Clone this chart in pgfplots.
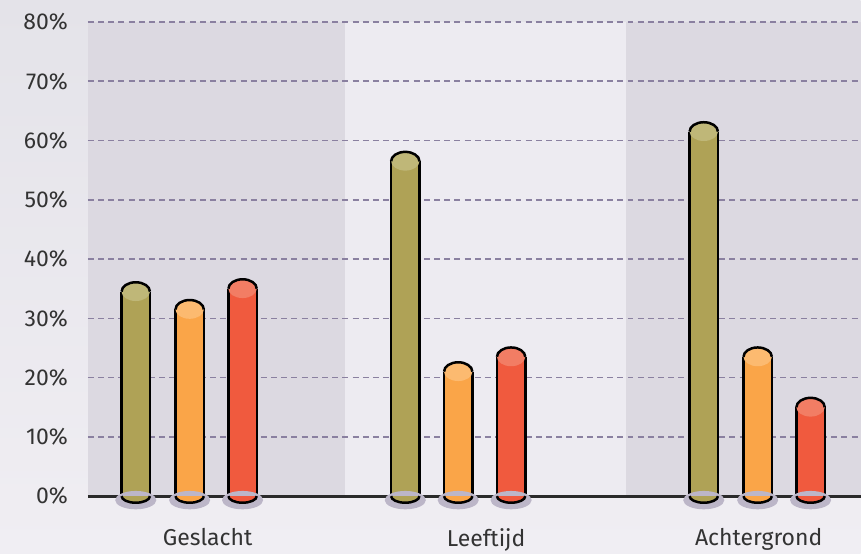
\documentclass[border=0pt]{standalone}
\usepackage{pgfplots}
\usepackage{pgfplotstable}
\pgfplotsset{compat=1.18}
\usepackage{fontspec}
\setmainfont{Fira Sans}

\definecolor{colA}{HTML}{AFA256}
\definecolor{hlA}{HTML}{BFB778}
\definecolor{colB}{HTML}{FAA548}
\definecolor{hlB}{HTML}{FCBA70}
\definecolor{colC}{HTML}{F05A3E}
\definecolor{hlC}{HTML}{F27D64}
\definecolor{shadowc}{HTML}{BCB6C8}
\definecolor{gridc}{HTML}{8A80A0}
\definecolor{bandD}{HTML}{DCD9E1}
\definecolor{bandL}{HTML}{EDEBF1}
\definecolor{bgT}{HTML}{E4E3E9}
\definecolor{bgB}{HTML}{F0EEF3}
\definecolor{textc}{HTML}{333333}
\definecolor{zeroc}{HTML}{2A2A2A}

\pgfdeclareplotmark{captop}{%
  \pgfpathellipse{\pgfpointorigin}{\pgfqpoint{7.1pt}{0pt}}{\pgfqpoint{0pt}{4.7pt}}%
  \pgfusepath{fill}%
  \pgfpathmoveto{\pgfqpoint{-7.1pt}{0pt}}%
  \pgfpatharc{180}{0}{7.1pt and 4.7pt}%
  \pgfusepath{stroke}}
\pgfdeclareplotmark{capbot}{%
  \pgfpathmoveto{\pgfqpoint{-7.1pt}{0pt}}%
  \pgfpatharc{180}{360}{7.1pt and 3.3pt}%
  \pgfusepath{fill,stroke}}
\pgfdeclareplotmark{shadow}{%
  \pgfpathellipse{\pgfqpoint{0pt}{-2pt}}{\pgfqpoint{10.3pt}{0pt}}{\pgfqpoint{0pt}{4.6pt}}%
  \pgfusepath{fill}}

\pgfplotstableread{
x y
136 34.5
406 56.5
705 61.5
}\dataA
\pgfplotstableread{
x y
190 31.5
459 21
759 23.5
}\dataB
\pgfplotstableread{
x y
243 35
512 23.5
812 15
}\dataC

\newcommand\cyl[3]{%
  \addplot[ycomb, draw=#2, line width=14.2pt, mark=none] table[x=x,y=y]{#1};
  \addplot[ycomb, draw=black, line width=1.25pt, mark=none] table[x expr=\thisrow{x}-7.1*2, y=y]{#1};
  \addplot[ycomb, draw=black, line width=1.25pt, mark=none] table[x expr=\thisrow{x}+7.1*2, y=y]{#1};
  \addplot[only marks, mark=capbot, mark options={fill=#2, draw=black, line width=1.25pt}] table[x=x, y expr=0]{#1};
  \addplot[only marks, mark=captop, mark options={fill=#3, draw=black, line width=1.25pt}] table[x=x, y=y]{#1};
}

\begin{document}
\begin{tikzpicture}
\begin{axis}[
  set layers,
  scale only axis,
  width=387pt, height=237.5pt,
  xmin=88, xmax=862, ymin=0, ymax=80,
  clip=false,
  axis line style={draw=none},
  tick style={draw=none},
  ytick={0,10,...,80},
  yticklabel={\pgfmathprintnumber[assume math mode=true]{\tick}\%},
  yticklabel style={font=\fontsize{11.5}{13}\selectfont, text=textc, xshift=-6.5pt},
  xtick={208,487,760},
  xticklabels={Geslacht,Leeftijd,Achtergrond},
  xticklabel style={font=\fontsize{11.5}{13}\selectfont, text=textc, yshift=-12.5pt},
]
\begin{pgfonlayer}{axis background}
\shade[top color=bgT, bottom color=bgB] (rel axis cs:-0.11370,-0.12) rectangle (rel axis cs:1,1.04632);
\end{pgfonlayer}
\addplot[fill=bandD, draw=none, on layer=axis background] coordinates {(88,0) (346,0) (346,80) (88,80)} -- cycle;
\addplot[fill=bandL, draw=none, on layer=axis background] coordinates {(346,0) (627,0) (627,80) (346,80)} -- cycle;
\addplot[fill=bandD, draw=none, on layer=axis background] coordinates {(627,0) (862,0) (862,80) (627,80)} -- cycle;

\pgfplotsinvokeforeach{10,20,...,80}{%
  \addplot[on layer=axis background, draw=gridc, line width=0.75pt, dash pattern=on 3pt off 2.1pt, mark=none] coordinates {(88,#1) (862,#1)};
}

\addplot[on layer=axis background, only marks, mark=shadow, mark options={fill=shadowc, draw=none}] table[x=x, y expr=0]{\dataA};
\addplot[on layer=axis background, only marks, mark=shadow, mark options={fill=shadowc, draw=none}] table[x=x, y expr=0]{\dataB};
\addplot[on layer=axis background, only marks, mark=shadow, mark options={fill=shadowc, draw=none}] table[x=x, y expr=0]{\dataC};

\addplot[on layer=axis background, draw=zeroc, line width=1.5pt, mark=none] coordinates {(88,0) (862,0)};

\cyl{\dataA}{colA}{hlA}
\cyl{\dataB}{colB}{hlB}
\cyl{\dataC}{colC}{hlC}
\end{axis}
\end{tikzpicture}
\end{document}
